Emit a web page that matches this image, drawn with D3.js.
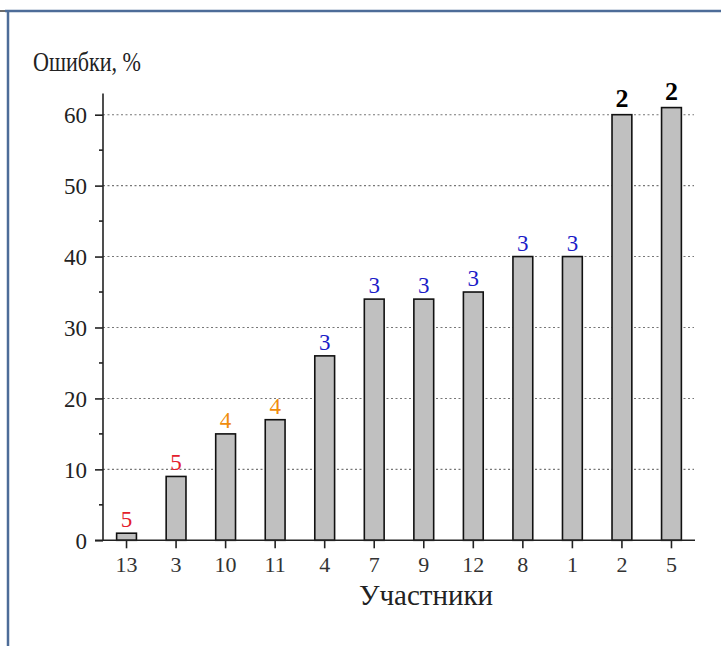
<!DOCTYPE html>
<html>
<head>
<meta charset="utf-8">
<script src="https://cdn.jsdelivr.net/npm/d3@7"></script>
<style>
  html, body { margin: 0; padding: 0; background: #fff; }
  svg { display: block; }
  text { font-family: "Liberation Serif", "Times New Roman", serif; }
</style>
</head>
<body>
<svg id="chart" width="721" height="646"></svg>
<script>
const participants = ["13","3","10","11","4","7","9","12","8","1","2","5"];
const errors = [1, 9, 15, 17, 26, 34, 34, 35, 40, 40, 60, 61];
const groups = [5, 5, 4, 4, 3, 3, 3, 3, 3, 3, 2, 2];
const groupColors = {5: "#e3202c", 4: "#f08c0c", 3: "#1c1cc8", 2: "#000000"};
const yTicks = [0, 10, 20, 30, 40, 50, 60];
const yMinorTicks = [5, 15, 25, 35, 45, 55];
const yTitle = "Ошибки, %";
const xTitle = "Участники";

const svg = d3.select("#chart");

// frame
svg.append("line").attr("x1", 0).attr("x2", 6).attr("y1", 11).attr("y2", 11)
  .attr("stroke", "#6b6b6b").attr("stroke-width", 2);
svg.append("line").attr("x1", 5).attr("x2", 721).attr("y1", 11).attr("y2", 11)
  .attr("stroke", "#4d6c98").attr("stroke-width", 2.5);
svg.append("line").attr("x1", 8).attr("x2", 8).attr("y1", 10).attr("y2", 646)
  .attr("stroke", "#4d6c98").attr("stroke-width", 2.5);

const x = d3.scaleBand().domain(participants).range([103, 695])
  .paddingInner(0.6).paddingOuter(0.275);
const y = d3.scaleLinear().domain([0, 63]).range([540.3, 93.4]);

// grid
svg.append("g").selectAll("line").data(yTicks.filter(d => d > 0)).join("line")
  .attr("x1", 103).attr("x2", 694)
  .attr("y1", d => y(d)).attr("y2", d => y(d))
  .attr("stroke", "#777").attr("stroke-width", 1.1)
  .attr("stroke-dasharray", "2,2.5");

// bars
svg.append("g").selectAll("rect").data(participants).join("rect")
  .attr("x", d => x(d))
  .attr("width", x.bandwidth())
  .attr("y", (d, i) => y(errors[i]))
  .attr("height", (d, i) => y(0) - y(errors[i]))
  .attr("fill", "#c0c0c0")
  .attr("stroke", "#111").attr("stroke-width", 1.6);

// y axis
const yAxis = d3.axisLeft(y).tickValues(yTicks).tickSize(8).tickPadding(8)
  .tickFormat(d3.format("d"));
const gy = svg.append("g").attr("transform", "translate(103,0)").call(yAxis);
gy.attr("font-family", null);
gy.select(".domain").remove();
gy.append("line").attr("x1", 0).attr("x2", 0).attr("y1", y(63)).attr("y2", y(0))
  .attr("stroke", "#222").attr("stroke-width", 1.6);
gy.selectAll(".tick line").attr("stroke", "#222").attr("stroke-width", 1.6);
gy.selectAll(".tick text").attr("font-size", 23).attr("fill", "#222")
  .attr("dy", "0.34em");
gy.selectAll(".minor").data(yMinorTicks).join("line")
  .attr("class", "minor")
  .attr("x1", -4).attr("x2", 0)
  .attr("y1", d => y(d)).attr("y2", d => y(d))
  .attr("stroke", "#222").attr("stroke-width", 1.6);

// x axis
const xAxis = d3.axisBottom(x).tickSize(8).tickPadding(8);
const gx = svg.append("g").attr("transform", `translate(0,${y(0)})`).call(xAxis);
gx.attr("font-family", null);
gx.select(".domain").remove();
gx.append("line").attr("x1", 95).attr("x2", 695).attr("y1", 0).attr("y2", 0)
  .attr("stroke", "#222").attr("stroke-width", 1.6);
gx.selectAll(".tick line").attr("stroke", "#222").attr("stroke-width", 1.6);
gx.selectAll(".tick text").attr("font-size", 22).attr("fill", "#333");

// value group labels
svg.append("g").selectAll("text").data(participants).join("text")
  .attr("x", d => x(d) + x.bandwidth() / 2)
  .attr("y", (d, i) => y(errors[i]) - (groups[i] === 2 ? 8 : 6))
  .attr("text-anchor", "middle")
  .attr("font-size", (d, i) => groups[i] === 2 ? 26 : 23)
  .attr("font-weight", (d, i) => groups[i] === 2 ? "bold" : "normal")
  .attr("fill", (d, i) => groupColors[groups[i]])
  .text((d, i) => groups[i]);

// titles
svg.append("text").attr("x", 33).attr("y", 71)
  .attr("font-size", 27).attr("fill", "#222")
  .attr("textLength", 108).attr("lengthAdjust", "spacingAndGlyphs")
  .text(yTitle);
svg.append("text").attr("x", 426).attr("y", 605)
  .attr("text-anchor", "middle")
  .attr("font-size", 29).attr("fill", "#222")
  .text(xTitle);
</script>
</body>
</html>
